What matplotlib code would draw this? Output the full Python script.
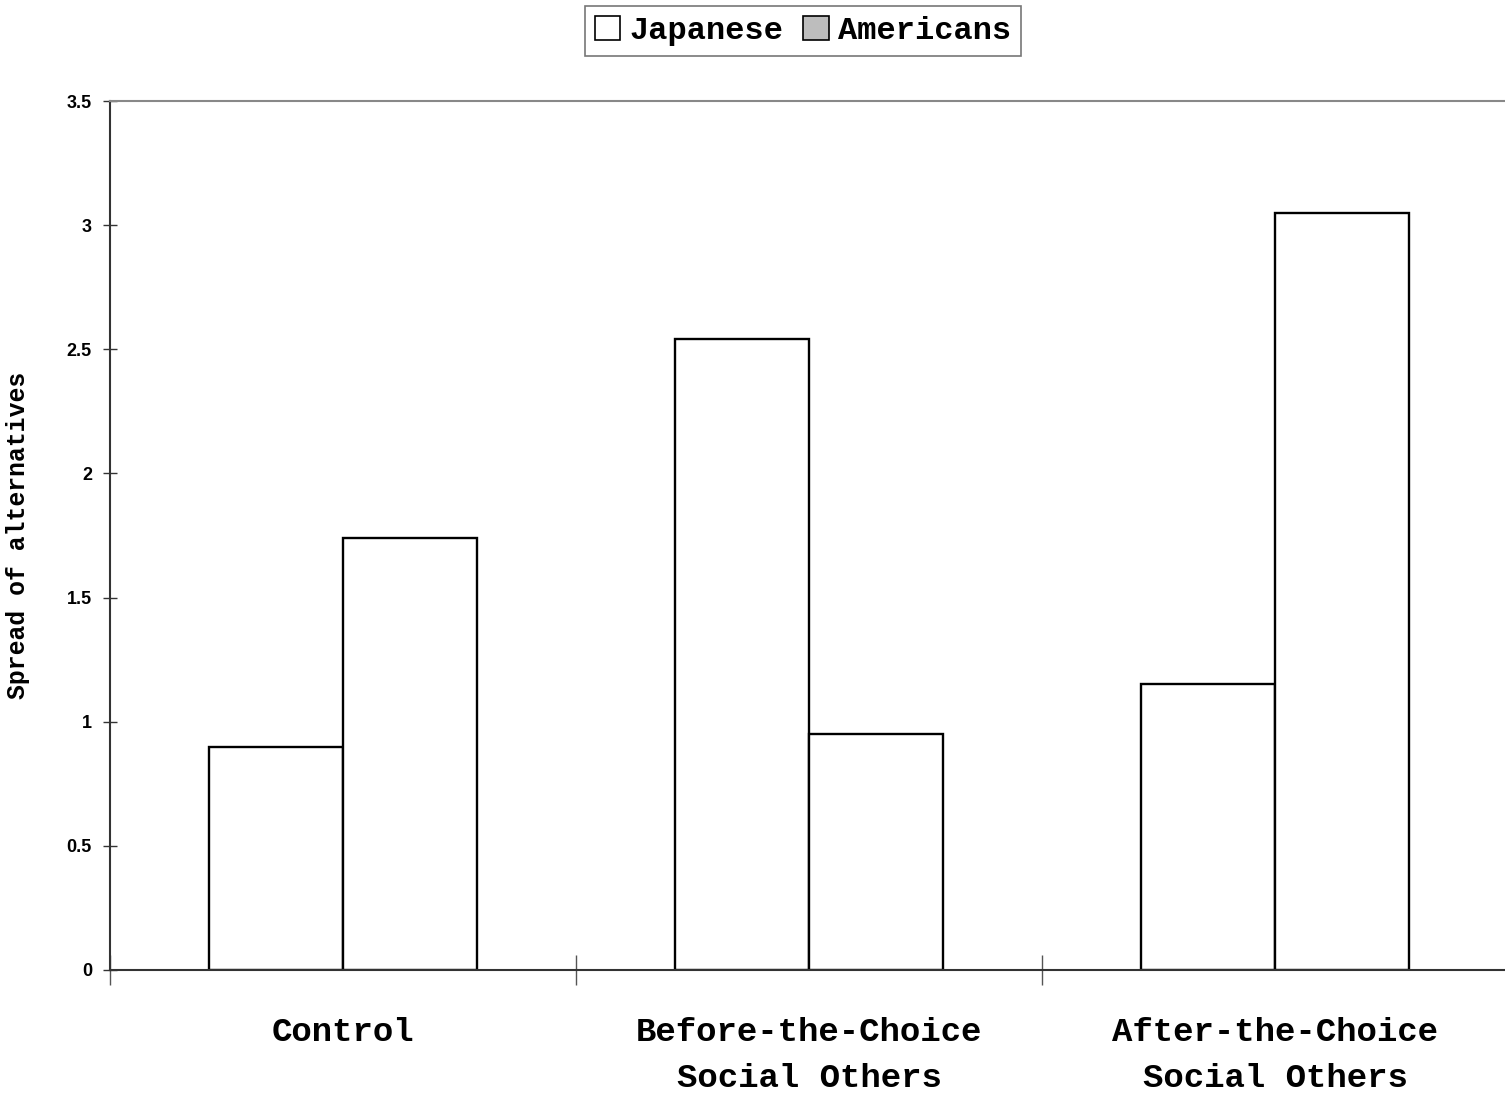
import matplotlib
matplotlib.use("Agg")
import matplotlib.pyplot as plt
import numpy as np
from matplotlib.patches import Patch

categories = ["Control", "Before-the-Choice\nSocial Others", "After-the-Choice\nSocial Others"]
series_names = ["Japanese", "Americans"]
japanese = [0.90, 2.54, 1.15]
americans = [1.74, 0.95, 3.05]
yticks = [0, 0.5, 1, 1.5, 2, 2.5, 3, 3.5]
ytick_labels = ["0", "0.5", "1", "1.5", "2", "2.5", "3", "3.5"]

mono = ["Liberation Mono", "DejaVu Sans Mono"]

fig = plt.figure(figsize=(15.05, 10.98), dpi=100)
ax = fig.add_axes([110/1505, 1 - 970/1098, 1 - 110/1505 + 0.002, (970 - 101)/1098])

x = np.arange(len(categories))
w = 0.2875
ax.bar(x - w/2, japanese, w, facecolor="white", edgecolor="black", linewidth=1.7, label=series_names[0])
ax.bar(x + w/2, americans, w, facecolor="white", edgecolor="black", linewidth=1.7, label=series_names[1])

ax.set_xlim(-0.5, 2.5)
ax.set_ylim(0, 3.5)

ax.set_yticks(yticks)
ax.set_yticklabels(ytick_labels, fontfamily=["Liberation Sans", "DejaVu Sans"], fontweight="bold", fontsize=13)
ax.tick_params(axis="y", direction="inout", length=10, width=1, color="#333333", pad=8)

ax.set_xticks([-0.5, 0.5, 1.5, 2.5])
ax.set_xticklabels([])
ax.tick_params(axis="x", direction="inout", length=22, width=1, color="#555555")
for xi, lab in zip(x, categories):
    ax.text(xi, -0.19, lab, ha="center", va="top", fontfamily=mono, fontweight="bold",
            fontsize=24.5, linespacing=1.6, transform=ax.transData)

ax.spines["right"].set_visible(False)
ax.spines["top"].set_color("#888888")
ax.spines["top"].set_linewidth(1.5)
for s in ["left", "bottom"]:
    ax.spines[s].set_color("#333333")
    ax.spines[s].set_linewidth(1.5)

ax.set_ylabel("Spread of alternatives", fontfamily=mono, fontweight="bold", fontsize=17.8)
ax.yaxis.set_label_coords(-0.057, 0.5)

handles = [Patch(facecolor="white", edgecolor="black", linewidth=1.2),
           Patch(facecolor="#bdbdbd", edgecolor="black", linewidth=1.2)]
leg = fig.legend(handles, series_names, loc="center", bbox_to_anchor=(803/1505, 1 - 31/1098),
                 ncol=2, frameon=True, fancybox=False, edgecolor="#555555",
                 prop={"family": mono, "weight": "bold", "size": 23},
                 handlelength=0.8, handleheight=0.8, handletextpad=0.3, columnspacing=0.6,
                 borderpad=0.3, borderaxespad=0)
leg.get_frame().set_linewidth(1.2)

fig.savefig("out.png", dpi=100)
